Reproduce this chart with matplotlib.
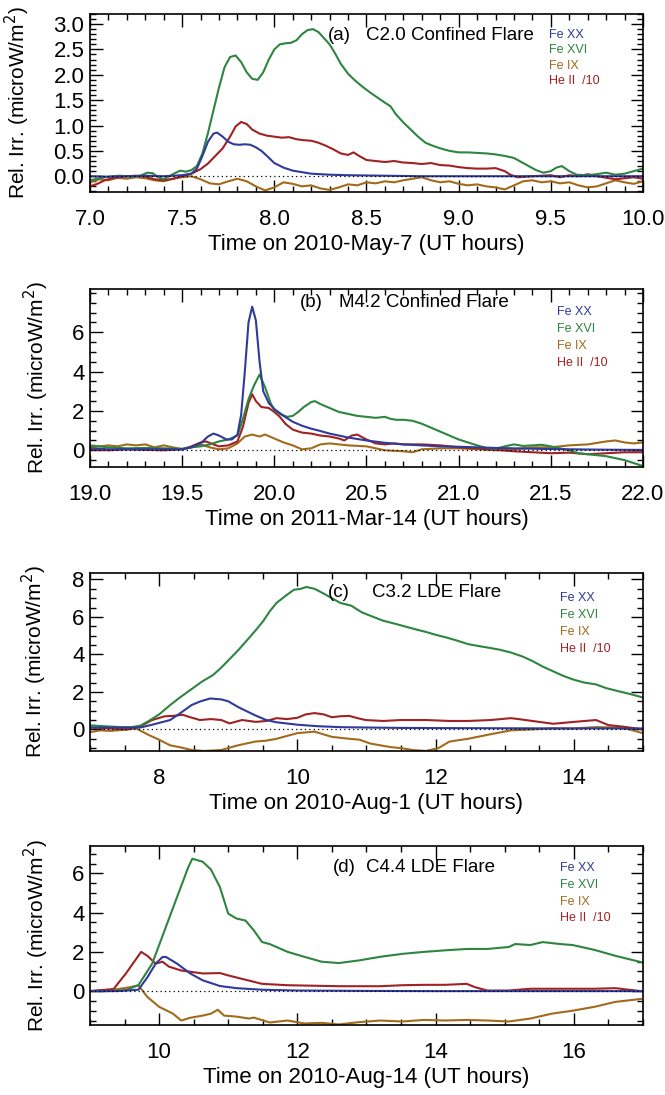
import numpy as np
import matplotlib.pyplot as plt
from matplotlib.ticker import MultipleLocator, FixedLocator

plt.rcParams["font.family"] = ["Liberation Sans", "DejaVu Sans"]

C_FE20 = "#2f3a9a"
C_FE16 = "#2e8540"
C_FE9 = "#a26b1c"
C_HE2 = "#a02222"

# ---- panel (a) 2010-May-7 ----
a_fe20_t = [7.0, 7.1, 7.2, 7.3, 7.4, 7.5, 7.55, 7.58, 7.61, 7.64, 7.67, 7.69, 7.72, 7.75, 7.78, 7.81,
            7.84, 7.87, 7.9, 7.93, 7.96, 8.0, 8.05, 8.1, 8.15, 8.2, 8.3, 8.4, 8.6, 8.8, 9.0, 9.5, 10.0]
a_fe20 = [0.0, -0.01, 0.0, 0.01, 0.0, 0.02, 0.05, 0.15, 0.4, 0.68, 0.84, 0.86, 0.78, 0.68, 0.63, 0.62,
          0.63, 0.62, 0.57, 0.5, 0.4, 0.26, 0.17, 0.11, 0.08, 0.05, 0.03, 0.02, 0.01, 0.0, 0.0, 0.0, 0.0]

a_fe16_t = [7.0, 7.04, 7.08, 7.12, 7.16, 7.2, 7.24, 7.28, 7.31, 7.34, 7.37, 7.4, 7.43, 7.46, 7.49, 7.52,
            7.55, 7.58, 7.61, 7.64, 7.67, 7.7, 7.73, 7.76, 7.79, 7.82, 7.85, 7.88, 7.91, 7.94, 7.97, 8.0,
            8.03, 8.06, 8.09, 8.12, 8.15, 8.18, 8.21, 8.24, 8.27, 8.3, 8.33, 8.36, 8.4, 8.44, 8.48, 8.52,
            8.56, 8.6, 8.63, 8.66, 8.7, 8.74, 8.78, 8.82, 8.86, 8.9, 8.95, 9.0, 9.05, 9.1, 9.15, 9.2,
            9.25, 9.3, 9.34, 9.38, 9.42, 9.46, 9.5, 9.53, 9.56, 9.6, 9.64, 9.7, 9.75, 9.8, 9.85, 9.9,
            9.95, 10.0]
a_fe16 = [-0.08, -0.05, -0.02, 0.0, 0.01, 0.0, -0.01, 0.02, 0.07, 0.06, -0.02, -0.06, 0.0, 0.06, 0.11, 0.09,
          0.12, 0.2, 0.45, 0.85, 1.3, 1.75, 2.15, 2.35, 2.38, 2.25, 2.05, 1.92, 1.9, 2.05, 2.3, 2.5,
          2.6, 2.62, 2.63, 2.68, 2.8, 2.88, 2.9, 2.84, 2.72, 2.6, 2.42, 2.22, 2.02, 1.88, 1.76, 1.65,
          1.55, 1.45, 1.38, 1.22, 1.06, 0.92, 0.78, 0.66, 0.6, 0.55, 0.5, 0.47, 0.47, 0.46, 0.45, 0.43,
          0.4, 0.36, 0.28, 0.2, 0.12, 0.07, 0.1, 0.17, 0.2, 0.1, 0.03, 0.02, 0.04, 0.07, 0.03, 0.05,
          0.1, 0.15]

a_fe9_t = [7.0, 7.05, 7.1, 7.15, 7.2, 7.25, 7.3, 7.35, 7.4, 7.45, 7.5, 7.55, 7.6, 7.65, 7.7, 7.75,
           7.8, 7.85, 7.9, 7.95, 8.0, 8.05, 8.1, 8.15, 8.2, 8.25, 8.3, 8.35, 8.4, 8.45, 8.5, 8.55,
           8.6, 8.65, 8.7, 8.75, 8.8, 8.85, 8.9, 8.95, 9.0, 9.05, 9.1, 9.15, 9.2, 9.25, 9.3, 9.35,
           9.4, 9.45, 9.5, 9.55, 9.6, 9.65, 9.7, 9.75, 9.8, 9.85, 9.9, 9.95, 10.0]
a_fe9 = [-0.12, -0.06, -0.08, -0.03, -0.05, -0.02, -0.04, -0.08, -0.1, -0.05, -0.02, 0.0, -0.06, -0.14, -0.16, -0.1,
         -0.05, -0.1, -0.2, -0.28, -0.22, -0.12, -0.15, -0.2, -0.18, -0.24, -0.27, -0.22, -0.16, -0.18, -0.12, -0.14,
         -0.1, -0.12, -0.08, -0.05, -0.02, -0.08, -0.12, -0.1, -0.15, -0.18, -0.16, -0.2, -0.22, -0.26, -0.18, -0.1,
         -0.08, -0.12, -0.1, -0.14, -0.12, -0.18, -0.22, -0.2, -0.14, -0.08, -0.12, -0.15, -0.1]

a_he2_t = [7.0, 7.04, 7.08, 7.12, 7.16, 7.2, 7.25, 7.3, 7.35, 7.4, 7.45, 7.5, 7.55, 7.6, 7.64, 7.68,
           7.72, 7.76, 7.79, 7.82, 7.85, 7.88, 7.92, 7.96, 8.0, 8.04, 8.08, 8.12, 8.16, 8.2, 8.24, 8.28,
           8.32, 8.36, 8.4, 8.43, 8.46, 8.5, 8.55, 8.6, 8.65, 8.7, 8.75, 8.8, 8.85, 8.9, 8.95, 9.0,
           9.05, 9.1, 9.15, 9.2, 9.25, 9.28, 9.32, 9.4, 9.5, 9.55, 9.6, 9.65, 9.7, 9.75, 9.8, 9.85,
           9.9, 9.95, 10.0]
a_he2 = [-0.2, -0.15, -0.08, -0.04, -0.02, 0.0, 0.01, -0.01, -0.06, -0.08, -0.05, 0.0, 0.05, 0.14, 0.25, 0.4,
         0.55, 0.78, 0.98, 1.07, 1.03, 0.92, 0.84, 0.8, 0.78, 0.76, 0.77, 0.73, 0.71, 0.7, 0.66, 0.6,
         0.53, 0.45, 0.42, 0.47, 0.4, 0.32, 0.3, 0.28, 0.3, 0.27, 0.26, 0.24, 0.26, 0.22, 0.21, 0.18,
         0.16, 0.15, 0.15, 0.16, 0.1, 0.03, -0.02, 0.0, 0.02, -0.02, 0.02, 0.0, 0.04, 0.0, -0.03, -0.06,
         -0.04, -0.02, -0.05]

# ---- panel (b) 2011-Mar-14 ----
b_fe20_t = [19.0, 19.1, 19.2, 19.3, 19.4, 19.5, 19.55, 19.6, 19.64, 19.67, 19.7, 19.74, 19.77, 19.8, 19.82,
            19.84, 19.86, 19.88, 19.9, 19.92, 19.94, 19.97, 20.0, 20.05, 20.1, 20.15, 20.2, 20.25, 20.3,
            20.4, 20.5, 20.6, 20.7, 20.8, 20.9, 21.0, 21.2, 21.4, 21.6, 21.8, 22.0]
b_fe20 = [0.1, 0.05, 0.05, 0.05, 0.05, 0.05, 0.15, 0.35, 0.7, 0.85, 0.75, 0.55, 0.55, 0.8, 1.8,
          4.0, 6.5, 7.3, 6.6, 4.5, 3.0, 2.4, 2.1, 1.75, 1.45, 1.25, 1.1, 0.98, 0.85,
          0.65, 0.5, 0.38, 0.3, 0.25, 0.2, 0.18, 0.12, 0.08, 0.05, 0.03, 0.02]

b_fe16_t = [19.0, 19.1, 19.2, 19.3, 19.4, 19.5, 19.55, 19.6, 19.65, 19.7, 19.75, 19.8, 19.83, 19.86, 19.89,
            19.92, 19.95, 19.98, 20.0, 20.03, 20.07, 20.1, 20.13, 20.16, 20.2, 20.22, 20.25, 20.3, 20.35,
            20.4, 20.45, 20.5, 20.55, 20.6, 20.63, 20.66, 20.7, 20.75, 20.8, 20.85, 20.9, 20.95, 21.0,
            21.05, 21.1, 21.15, 21.2, 21.25, 21.3, 21.35, 21.4, 21.45, 21.5, 21.55, 21.6, 21.65, 21.7,
            21.75, 21.8, 21.85, 21.9, 21.95, 22.0]
b_fe16 = [0.25, 0.15, 0.1, 0.12, 0.1, 0.08, 0.15, 0.2, 0.3, 0.45, 0.55, 0.75, 1.6, 2.6, 3.3,
          3.85, 3.2, 2.4, 2.05, 1.85, 1.7, 1.75, 1.95, 2.2, 2.45, 2.5, 2.35, 2.15, 1.95,
          1.85, 1.75, 1.7, 1.65, 1.7, 1.6, 1.55, 1.55, 1.5, 1.35, 1.15, 0.95, 0.75, 0.55,
          0.4, 0.25, 0.12, 0.08, 0.2, 0.3, 0.22, 0.25, 0.28, 0.2, 0.1, 0.0, -0.15, -0.2,
          -0.25, -0.3, -0.4, -0.5, -0.65, -0.8]

b_fe9_t = [19.0, 19.05, 19.1, 19.15, 19.2, 19.25, 19.3, 19.35, 19.4, 19.45, 19.5, 19.55, 19.6, 19.65, 19.7,
           19.75, 19.8, 19.84, 19.88, 19.92, 19.95, 20.0, 20.05, 20.1, 20.15, 20.2, 20.25, 20.3, 20.35,
           20.4, 20.5, 20.55, 20.6, 20.7, 20.75, 20.8, 20.9, 21.0, 21.1, 21.2, 21.3, 21.4, 21.5,
           21.6, 21.7, 21.8, 21.85, 21.9, 21.95, 22.0]
b_fe9 = [0.15, 0.2, 0.25, 0.2, 0.3, 0.25, 0.3, 0.15, 0.25, 0.15, 0.05, 0.15, 0.3, 0.15, 0.05,
         0.1, 0.35, 0.7, 0.8, 0.7, 0.8, 0.6, 0.4, 0.25, 0.05, 0.1, 0.3, 0.35, 0.3,
         0.25, 0.2, 0.1, 0.0, -0.05, -0.1, 0.05, 0.1, 0.1, 0.05, 0.0, 0.05, 0.15, 0.15,
         0.25, 0.3, 0.45, 0.5, 0.4, 0.35, 0.4]

b_he2_t = [19.0, 19.1, 19.2, 19.3, 19.4, 19.5, 19.55, 19.6, 19.63, 19.67, 19.7, 19.75, 19.8, 19.83, 19.86,
           19.88, 19.9, 19.93, 19.97, 20.0, 20.03, 20.06, 20.1, 20.15, 20.2, 20.25, 20.3, 20.35, 20.38,
           20.42, 20.45, 20.5, 20.55, 20.6, 20.65, 20.7, 20.8, 20.9, 21.0, 21.1, 21.2, 21.3, 21.4,
           21.5, 21.6, 21.7, 21.8, 21.9, 22.0]
b_he2 = [0.05, 0.0, 0.05, 0.02, 0.0, 0.05, 0.2, 0.4, 0.45, 0.3, 0.2, 0.25, 0.45, 1.2, 2.4,
         2.85, 2.5, 2.2, 2.15, 1.95, 1.7, 1.35, 1.05, 0.9, 0.85, 0.75, 0.7, 0.6, 0.5,
         0.75, 0.8, 0.55, 0.35, 0.3, 0.35, 0.3, 0.3, 0.25, 0.15, 0.1, 0.02, -0.05, -0.1,
         -0.15, -0.12, -0.2, -0.15, -0.1, -0.1]

# ---- panel (c) 2010-Aug-1 ----
c_fe20_t = [7.0, 7.4, 7.73, 7.9, 8.16, 8.3, 8.47, 8.6, 8.74, 8.9, 9.0, 9.14, 9.25, 9.39, 9.55,
            9.7, 10.0, 10.3, 10.62, 11.0, 11.5, 12.0, 13.0, 14.0, 15.0]
c_fe20 = [0.1, 0.1, 0.1, 0.25, 0.5, 0.85, 1.3, 1.5, 1.65, 1.6, 1.5, 1.2, 1.0, 0.75, 0.5,
          0.38, 0.25, 0.17, 0.12, 0.1, 0.08, 0.07, 0.06, 0.05, 0.05]

c_fe16_t = [7.0, 7.15, 7.3, 7.45, 7.6, 7.73, 7.85, 8.0, 8.16, 8.3, 8.47, 8.62, 8.78, 8.9, 9.02,
            9.15, 9.27, 9.4, 9.51, 9.6, 9.7, 9.82, 9.95, 10.05, 10.13, 10.25, 10.38, 10.5, 10.62,
            10.78, 10.93, 11.1, 11.24, 11.4, 11.55, 11.7, 11.86, 12.0, 12.16, 12.3, 12.47, 12.62, 12.78,
            12.93, 13.09, 13.25, 13.4, 13.55, 13.7, 13.85, 14.0, 14.15, 14.32, 14.47, 14.63, 14.8, 15.0]
c_fe16 = [0.22, 0.18, 0.15, 0.12, 0.12, 0.2, 0.45, 0.8, 1.3, 1.7, 2.15, 2.55, 2.9, 3.3, 3.75,
          4.25, 4.75, 5.3, 5.8, 6.3, 6.75, 7.1, 7.45, 7.5, 7.6, 7.5, 7.25, 7.0, 6.75,
          6.6, 6.25, 6.0, 5.8, 5.65, 5.5, 5.35, 5.2, 5.05, 4.9, 4.75, 4.55, 4.45, 4.35,
          4.25, 4.1, 3.9, 3.65, 3.35, 3.1, 2.85, 2.65, 2.5, 2.4, 2.2, 2.05, 1.9, 1.7]

c_fe9_t = [7.0, 7.15, 7.3, 7.5, 7.67, 7.85, 8.0, 8.16, 8.3, 8.47, 8.65, 8.9, 9.14, 9.39, 9.55,
           9.7, 9.85, 10.0, 10.25, 10.5, 10.75, 10.9, 11.05, 11.2, 11.36, 11.5, 11.67, 11.86, 12.04,
           12.2, 12.47, 12.78, 13.09, 13.4, 13.7, 14.0, 14.32, 14.63, 14.8, 15.0]
c_fe9 = [-0.15, -0.05, -0.08, -0.02, 0.05, -0.3, -0.55, -0.85, -0.95, -1.1, -1.15, -1.1, -0.85, -0.65, -0.6,
         -0.5, -0.35, -0.2, -0.12, -0.4, -0.5, -0.55, -0.75, -0.85, -0.95, -1.0, -1.1, -1.15, -1.0,
         -0.65, -0.5, -0.27, -0.05, 0.0, 0.05, 0.05, 0.12, 0.1, 0.0, -0.2]

c_he2_t = [7.0, 7.3, 7.54, 7.75, 7.9, 8.08, 8.2, 8.34, 8.45, 8.59, 8.75, 8.9, 9.02, 9.2, 9.4,
           9.55, 9.7, 9.85, 10.0, 10.12, 10.25, 10.38, 10.5, 10.62, 10.75, 10.87, 10.99, 11.24, 11.5,
           11.86, 12.2, 12.47, 12.8, 13.09, 13.2, 13.4, 13.7, 14.0, 14.32, 14.5, 14.7, 15.0]
c_he2 = [0.1, 0.05, 0.0, 0.2, 0.5, 0.7, 0.72, 0.78, 0.65, 0.5, 0.55, 0.5, 0.32, 0.5, 0.4,
         0.45, 0.6, 0.55, 0.62, 0.8, 0.87, 0.8, 0.65, 0.7, 0.72, 0.6, 0.5, 0.45, 0.5,
         0.5, 0.45, 0.45, 0.5, 0.6, 0.55, 0.45, 0.3, 0.4, 0.5, 0.23, 0.15, 0.0]

# ---- panel (d) 2010-Aug-14 ----
d_fe20_t = [9.0, 9.4, 9.7, 9.83, 9.95, 10.05, 10.1, 10.26, 10.45, 10.63, 10.88, 11.12, 11.49, 12.0,
            13.0, 14.0, 15.0, 16.0, 17.0]
d_fe20 = [0.0, 0.0, 0.07, 0.7, 1.4, 1.74, 1.74, 1.4, 0.9, 0.55, 0.26, 0.15, 0.07, 0.03,
          0.01, 0.0, 0.0, 0.0, 0.0]

d_fe16_t = [9.0, 9.25, 9.52, 9.7, 9.9, 10.08, 10.26, 10.42, 10.48, 10.63, 10.75, 10.88, 11.0, 11.12,
            11.25, 11.37, 11.49, 11.6, 11.73, 11.86, 12.1, 12.35, 12.6, 12.9, 13.2, 13.52, 13.83, 14.14,
            14.45, 14.75, 15.06, 15.15, 15.37, 15.55, 15.8, 15.98, 16.3, 16.6, 16.97]
d_fe16 = [0.0, 0.0, 0.05, 0.3, 1.4, 3.1, 4.8, 6.3, 6.75, 6.6, 6.2, 5.3, 3.95, 3.7,
          3.6, 3.1, 2.5, 2.4, 2.2, 2.0, 1.75, 1.5, 1.43, 1.57, 1.75, 1.9, 2.0, 2.08,
          2.15, 2.15, 2.25, 2.4, 2.35, 2.5, 2.4, 2.35, 2.1, 1.8, 1.48]

d_fe9_t = [9.0, 9.4, 9.58, 9.7, 9.83, 10.0, 10.2, 10.32, 10.45, 10.63, 10.75, 10.85, 10.94, 11.12,
           11.3, 11.37, 11.6, 11.86, 12.1, 12.35, 12.6, 12.9, 13.2, 13.52, 13.83, 14.14, 14.45, 14.75,
           15.06, 15.37, 15.68, 15.98, 16.3, 16.6, 16.97]
d_fe9 = [0.0, 0.1, 0.2, 0.3, -0.3, -0.8, -1.15, -1.5, -1.36, -1.25, -1.15, -0.95, -1.25, -1.3,
         -1.4, -1.35, -1.6, -1.5, -1.65, -1.62, -1.7, -1.58, -1.5, -1.55, -1.47, -1.5, -1.47, -1.5,
         -1.55, -1.4, -1.15, -1.0, -0.8, -0.55, -0.4]

d_he2_t = [9.0, 9.34, 9.52, 9.65, 9.74, 9.83, 9.95, 10.05, 10.14, 10.32, 10.63, 10.88, 11.0, 11.25,
           11.49, 11.86, 12.6, 13.2, 13.52, 13.83, 14.14, 14.45, 14.57, 14.75, 15.06, 15.37, 15.68,
           16.3, 16.6, 16.97]
d_he2 = [0.0, 0.1, 0.9, 1.55, 2.0, 1.8, 1.4, 1.5, 1.25, 1.05, 0.9, 0.92, 0.8, 0.58,
         0.37, 0.3, 0.25, 0.25, 0.3, 0.32, 0.32, 0.37, 0.2, 0.03, 0.03, 0.12, 0.12,
         0.12, 0.15, 0.0]

panels = [
    dict(tag="(a)", title="C2.0 Confined Flare", xlabel="Time on 2010-May-7 (UT hours)",
         series=[(a_fe20_t, a_fe20), (a_fe16_t, a_fe16), (a_fe9_t, a_fe9), (a_he2_t, a_he2)],
         xlim=(7.0, 10.0), ylim=(-0.31, 3.2), xmaj=0.5, xmin=0.1, yticks=[0, 0.5, 1, 1.5, 2, 2.5, 3],
         ymin=0.1, fmt="%.1f", yfmt="%.1f", rect=[0.1353, 0.8247, 0.8316, 0.1626],
         tagx=0.43, titx=0.50, texty=0.88, leg=(0.83, 0.88), legdy=0.085, ylx=-0.105),
    dict(tag="(b)", title="M4.2 Confined Flare", xlabel="Time on 2011-Mar-14 (UT hours)",
         series=[(b_fe20_t, b_fe20), (b_fe16_t, b_fe16), (b_fe9_t, b_fe9), (b_he2_t, b_he2)],
         xlim=(19.0, 22.0), ylim=(-0.85, 8.2), xmaj=0.5, xmin=0.1, yticks=[0, 2, 4, 6],
         ymin=0.5, fmt="%.1f", yfmt="%d", rect=[0.1353, 0.5735, 0.8316, 0.1626],
         tagx=0.38, titx=0.45, texty=0.925, leg=(0.845, 0.87), legdy=0.095, ylx=-0.07),
    dict(tag="(c)", title="C3.2 LDE Flare", xlabel="Time on 2010-Aug-1 (UT hours)",
         series=[(c_fe20_t, c_fe20), (c_fe16_t, c_fe16), (c_fe9_t, c_fe9), (c_he2_t, c_he2)],
         xlim=(7.0, 15.0), ylim=(-1.15, 8.35), xmaj=2, xmin=0.5, yticks=[0, 2, 4, 6, 8],
         ymin=0.5, fmt="%d", yfmt="%d", rect=[0.1353, 0.3142, 0.8316, 0.1626],
         tagx=0.43, titx=0.51, texty=0.89, leg=(0.85, 0.86), legdy=0.095, ylx=-0.074),
    dict(tag="(d)", title="C4.4 LDE Flare", xlabel="Time on 2010-Aug-14 (UT hours)",
         series=[(d_fe20_t, d_fe20), (d_fe16_t, d_fe16), (d_fe9_t, d_fe9), (d_he2_t, d_he2)],
         xlim=(9.0, 17.0), ylim=(-1.73, 7.4), xmaj=2, xmin=0.5, yticks=[0, 2, 4, 6],
         ymin=0.5, fmt="%d", yfmt="%d", rect=[0.1353, 0.0639, 0.8316, 0.1635],
         tagx=0.44, titx=0.50, texty=0.88, leg=(0.85, 0.875), legdy=0.093, ylx=-0.07),
]

names = ["Fe XX", "Fe XVI", "Fe IX", "He II  /10"]
colors = [C_FE20, C_FE16, C_FE9, C_HE2]
draw_order = [2, 3, 1, 0]

fig = plt.figure(figsize=(6.65, 10.95), dpi=100)

for p in panels:
    ax = fig.add_axes(p["rect"])
    for i in draw_order:
        t, v = p["series"][i]
        ax.plot(t, v, color=colors[i], lw=1.5)
    ax.axhline(0, color="black", lw=0.9, ls=(0, (1, 2.5)))
    ax.set_xlim(*p["xlim"])
    ax.set_ylim(*p["ylim"])
    ax.xaxis.set_major_locator(MultipleLocator(p["xmaj"]))
    ax.xaxis.set_minor_locator(MultipleLocator(p["xmin"]))
    ax.yaxis.set_major_locator(FixedLocator(p["yticks"]))
    ax.yaxis.set_minor_locator(MultipleLocator(p["ymin"]))
    ax.xaxis.set_major_formatter(plt.FormatStrFormatter(p["fmt"]))
    ax.yaxis.set_major_formatter(plt.FormatStrFormatter(p["yfmt"]))
    ax.tick_params(which="both", direction="in", top=True, right=True, labelsize=16, width=1.0)
    ax.tick_params(which="major", length=9, pad=12)
    ax.tick_params(which="minor", length=4.5)
    ax.tick_params(axis="y", which="major", pad=4)
    for s in ax.spines.values():
        s.set_linewidth(1.2)
    ax.set_xlabel(p["xlabel"], fontsize=16, labelpad=3)
    ax.set_ylabel("Rel. Irr. (microW/m$^2$)", fontsize=15)
    ax.yaxis.set_label_coords(p["ylx"], 0.5)
    ax.text(p["tagx"], p["texty"], p["tag"], transform=ax.transAxes, fontsize=13.5, va="center")
    ax.text(p["titx"], p["texty"], p["title"], transform=ax.transAxes, fontsize=13.5, va="center")
    lx, ly = p["leg"]
    for k, (nm, c) in enumerate(zip(names, colors)):
        ax.text(lx, ly - k * p["legdy"], nm, transform=ax.transAxes, fontsize=9, color=c, va="center")

fig.savefig("out.png", dpi=100)
